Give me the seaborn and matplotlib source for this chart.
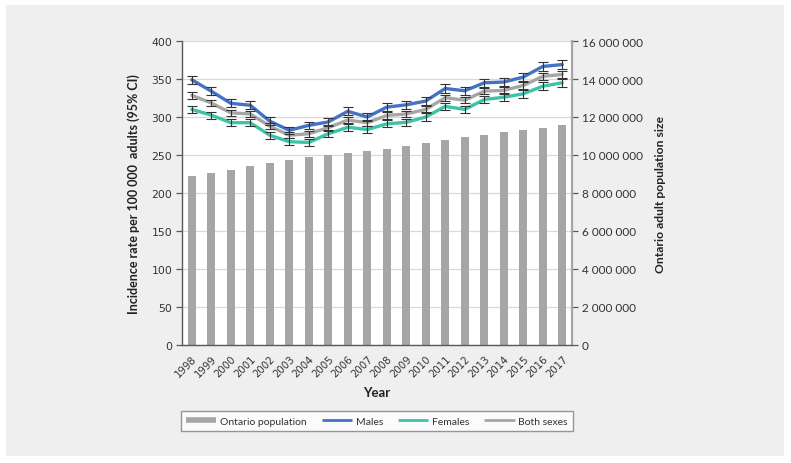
import numpy as np
import pandas as pd
import matplotlib
matplotlib.use("Agg")
import matplotlib.pyplot as plt
from matplotlib.patches import Rectangle
from matplotlib.lines import Line2D
from matplotlib.ticker import FuncFormatter, MultipleLocator, FixedLocator
import seaborn as sns

years = [str(y) for y in range(1998, 2018)]
population = [8890000, 9040000, 9220000, 9430000, 9580000, 9720000, 9880000,
              10000000, 10090000, 10190000, 10330000, 10490000, 10630000,
              10790000, 10940000, 11070000, 11190000, 11310000, 11430000, 11570000]
males = [349, 334, 318, 315.5, 294.5, 282.5, 289, 293.5, 307.5, 300, 313, 316,
         321, 337.5, 334.5, 345, 346, 352.5, 366.5, 369]
females = [310, 302.5, 292.5, 292.5, 276, 267.5, 266.5, 278, 286.5, 283.5, 291,
           293, 300, 314, 310, 323, 326, 330.5, 340.5, 345]
both = [328.5, 318.5, 305.5, 304, 288, 276, 278, 286, 296, 292.5, 302, 304,
        310, 325.5, 322, 334, 335, 341.5, 353.5, 356]
males_ci = [5.2, 5.2, 5.2, 5.2, 5.2, 5.0, 5.0, 5.0, 5.2, 5.2, 5.3, 5.3, 5.3,
            5.4, 5.4, 5.4, 5.4, 5.5, 5.5, 5.5]
females_ci = [4.8, 4.7, 4.7, 4.7, 4.6, 4.6, 4.6, 4.6, 4.7, 4.7, 4.8, 4.8, 4.8,
              4.9, 4.9, 4.9, 5.0, 5.0, 5.0, 5.1]
both_ci = [4.2, 4.0, 4.0, 4.0, 3.9, 3.8, 3.8, 3.8, 3.9, 3.9, 4.0, 4.0, 4.0,
           4.1, 4.1, 4.1, 4.1, 4.2, 4.2, 4.2]

series_names = ["Males", "Females", "Both sexes"]
colors = {"Males": "#4472c4", "Females": "#3cc4a9", "Both sexes": "#a6a6a6"}
bar_color = "#a6a6a6"

sns.set_style("white")
plt.rcParams["font.family"] = ["Lato", "DejaVu Sans"]

W, H = 791, 464
fig = plt.figure(figsize=(W / 100, H / 100), dpi=100)
fig.patch.set_facecolor("white")
fig.patches.append(Rectangle((6 / W, 1 - 457 / H), 778 / W, 451 / H,
                             transform=fig.transFigure, facecolor="#eeefee",
                             edgecolor="none", zorder=-10))

ax_bar = fig.add_axes([182 / W, 1 - 346 / H, 390 / W, 304 / H])
ax_bar.set_facecolor("white")
ax_line = ax_bar.twinx()

idx = np.arange(len(years))
df_pop = pd.DataFrame({"year": years, "pop": population})
sns.barplot(data=df_pop, x="year", y="pop", ax=ax_bar, color=bar_color,
            width=0.42, saturation=1, edgecolor="none", zorder=2)

df_lines = pd.DataFrame({
    "idx": np.concatenate([idx, idx, idx]),
    "rate": males + females + both,
    "series": ["Males"] * len(idx) + ["Females"] * len(idx) + ["Both sexes"] * len(idx),
})
sns.lineplot(data=df_lines, x="idx", y="rate", hue="series", hue_order=series_names,
             palette=colors, ax=ax_line, linewidth=2.4, legend=False, zorder=3)
for vals, ci in [(males, males_ci), (both, both_ci), (females, females_ci)]:
    ax_line.errorbar(idx, vals, yerr=ci, fmt="none", ecolor="#333333",
                     elinewidth=0.8, capsize=3.3, capthick=0.8, zorder=4)

# Scales
ax_bar.set_xlim(-0.5, len(years) - 0.5)
ax_bar.set_ylim(0, 16000000)
ax_line.set_ylim(0, 400)

# y axes sides
ax_bar.yaxis.tick_right()
ax_bar.yaxis.set_label_position("right")
ax_line.yaxis.tick_left()
ax_line.yaxis.set_label_position("left")

ax_bar.yaxis.set_major_locator(MultipleLocator(2000000))
ax_bar.yaxis.set_major_formatter(FuncFormatter(lambda v, p: f"{int(v):,}".replace(",", " ")))
ax_line.yaxis.set_major_locator(MultipleLocator(50))

# gridlines
ax_bar.set_axisbelow(True)
ax_bar.yaxis.grid(True, color="#d9d9d9", linewidth=0.9)
ax_bar.xaxis.grid(False)

# x ticks: labels at categories, marks at boundaries
ax_bar.xaxis.set_major_locator(FixedLocator(idx))
ax_bar.set_xticklabels(years, rotation=45, ha="right", rotation_mode="anchor",
                       fontfamily="DejaVu Sans", fontsize=7.3, color="#333333")
ax_bar.xaxis.set_minor_locator(FixedLocator(np.arange(-0.5, len(years), 1.0)))
ax_bar.tick_params(axis="x", which="major", length=0, pad=6)
ax_bar.tick_params(axis="x", which="minor", length=4, width=0.9, color="#595959",
                   direction="out")
ax_bar.set_xlabel("Year", fontsize=9.5, fontweight="bold", color="#222222", labelpad=5)

ax_bar.tick_params(axis="y", which="major", right=True, left=False, length=4,
                   width=0.9, color="#595959", labelsize=8.5, labelcolor="#333333",
                   direction="out", pad=3)
ax_line.tick_params(axis="y", which="major", left=True, right=False, length=4,
                    width=0.9, color="#595959", labelsize=7.8, labelcolor="#333333",
                    direction="out", pad=3)
for lbl in ax_line.get_yticklabels():
    lbl.set_fontfamily("DejaVu Sans")

ax_bar.set_ylabel("Ontario adult population size", fontsize=8.7, fontweight="bold",
                  color="#222222", labelpad=9)
ax_line.set_ylabel("Incidence rate per 100 000  adults (95% CI)", fontsize=9,
                   fontweight="bold", color="#222222", labelpad=8)

# spines
for s in ["top", "left"]:
    ax_bar.spines[s].set_visible(False)
ax_bar.spines["bottom"].set_color("#595959")
ax_bar.spines["bottom"].set_linewidth(1.0)
ax_bar.spines["right"].set_color("#a6a6a6")
ax_bar.spines["right"].set_linewidth(1.6)
for s in ["top", "right", "bottom"]:
    ax_line.spines[s].set_visible(False)
ax_line.spines["left"].set_color("#595959")
ax_line.spines["left"].set_linewidth(1.0)

# legend
handles = [Line2D([], [], color=bar_color, lw=4, solid_capstyle="butt"),
           Line2D([], [], color=colors["Males"], lw=2, solid_capstyle="butt"),
           Line2D([], [], color=colors["Females"], lw=2, solid_capstyle="butt"),
           Line2D([], [], color=colors["Both sexes"], lw=2, solid_capstyle="butt")]
labels = ["Ontario population", "Males", "Females", "Both sexes"]
leg = fig.legend(handles, labels, loc="center",
                 bbox_to_anchor=(377 / W, 1 - 422 / H), ncol=4, frameon=True,
                 fontsize=7.5, handlelength=2.9, handletextpad=0.35,
                 columnspacing=1.45, borderpad=0.5, fancybox=False)
leg.get_frame().set_edgecolor("#7f7f7f")
leg.get_frame().set_linewidth(1.0)
leg.get_frame().set_facecolor("white")
for t in leg.get_texts():
    t.set_color("#333333")

fig.savefig("out.png", dpi=100, facecolor=fig.get_facecolor())
